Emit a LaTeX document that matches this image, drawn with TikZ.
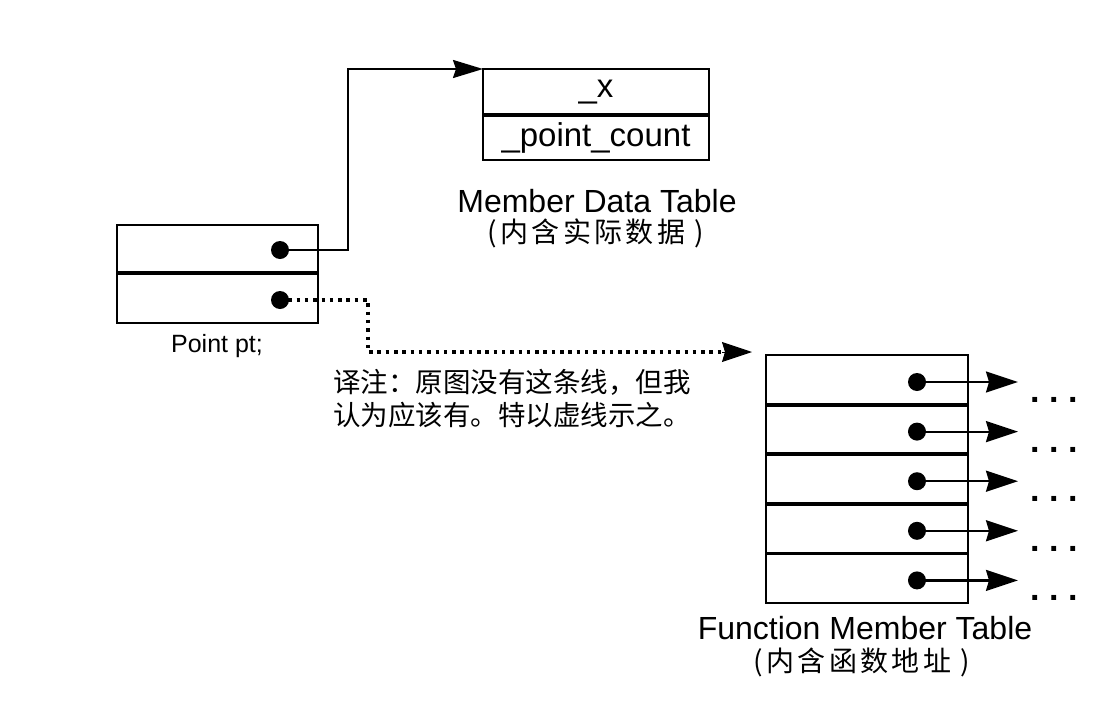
\documentclass[tikz,border=0pt]{standalone}
\usepackage{fontspec}
\setmainfont{Liberation Sans}
\newfontfamily\cjk{Noto Sans CJK SC}
\newfontfamily\cjkwide[LetterSpace=12]{Noto Sans CJK SC}
\usetikzlibrary{arrows.meta}
\begin{document}
\begin{tikzpicture}[x=1pt,y=-1pt,
  cell/.style={draw, line width=2.4pt, inner sep=0pt, outer sep=0pt, anchor=north west},
  divider/.style={line width=3.8pt},
  dotnode/.style={circle, fill, minimum size=18pt, inner sep=0pt},
  conn/.style={line width=2.2pt},
  bigtip/.style={-{Stealth[length=30pt,width=18pt,inset=3pt]}},
  fntip/.style={-{Stealth[length=32pt,width=21pt,inset=3pt]}},
  dotted line/.style={line width=3.5pt, dash pattern=on 3.5pt off 4.8pt},
  lbl/.style={font=\fontsize{32}{38}\selectfont, inner sep=0pt},
  cjklbl/.style={font=\cjkwide\fontsize{28}{34}\selectfont, inner sep=0pt},
  ell/.style={font=\bfseries\fontsize{34}{34}\selectfont, inner sep=0pt, anchor=base west}
]
\useasboundingbox[fill=white] (0,0) rectangle (1093,718);

% Point pt object
\node[cell, minimum width=201pt, minimum height=48pt] (p1) at (117,225) {};
\node[cell, minimum width=201pt, minimum height=50pt] (p2) at (117,273) {};
\draw[divider] (p1.south west) -- (p1.south east);
\node[dotnode] (d1) at (280,250) {};
\node[dotnode] (d2) at (280,300) {};
\node[font=\fontsize{25}{30}\selectfont, inner sep=0pt] (plabel) at (217,346) {Point pt;};

% Member data table
\node[cell, minimum width=226pt, minimum height=46pt] (m1) at (483,69) {};
\node[cell, minimum width=226pt, minimum height=45pt] (m2) at (483,115) {};
\draw[divider] (m1.south west) -- (m1.south east);
\node[lbl, font=\fontsize{33}{38}\selectfont] (mx) at (m1.center) {\_x};
\node[lbl, font=\fontsize{33}{38}\selectfont] (mpc) at (m2.center) {\_point\_count};
\node[lbl, anchor=base] (mtitle) at (597,212) {Member Data Table};
\node[cjklbl, anchor=base] (msub) at (596,242) {(内含实际数据 )};

% Solid pointer
\draw[conn, bigtip] (d1.center) -- ++(68,0) |- (m1.north west);

% Function member table
\foreach \i in {1,...,5} {
  \pgfmathsetmacro{\yy}{355+49.6*(\i-1)}
  \node[cell, minimum width=202pt, minimum height=49.6pt] (f\i) at (766,\yy) {};
  \node[dotnode] (fd\i) at (917,\yy+27) {};
  \coordinate (ft\i) at (1018,\yy+27);
  \draw[conn, fntip] (fd\i.center) -- (ft\i);
  \node[ell] (fe\i) at (1030,\yy+47.5) {.\hspace{9.5pt}.\hspace{9.5pt}.};
}
\foreach \i in {1,...,4} {
  \draw[divider] (f\i.south west) -- (f\i.south east);
}
\node[lbl, anchor=base] (ftitle) at (865,639) {Function Member Table};
\node[cjklbl, anchor=base] (fsub) at (862,671) {(内含函数地址 )};

% Dotted pointer
\coordinate (fdt) at (752,352);
\draw[dotted line] (d2.center) -- ++(88,0) |- ([xshift=-28pt]fdt);
\draw[conn, -{Stealth[length=30pt,width=20pt,inset=3pt]}, line width=1pt] ([xshift=-30pt]fdt) -- (fdt);

% Translator's note
\node[font=\cjk\fontsize{27.5}{33}\selectfont, inner sep=0pt, anchor=north west, align=left] (note) at (333,369)
  {译注：原图没有这条线，但我\\认为应该有。特以虚线示之。};
\end{tikzpicture}
\end{document}
